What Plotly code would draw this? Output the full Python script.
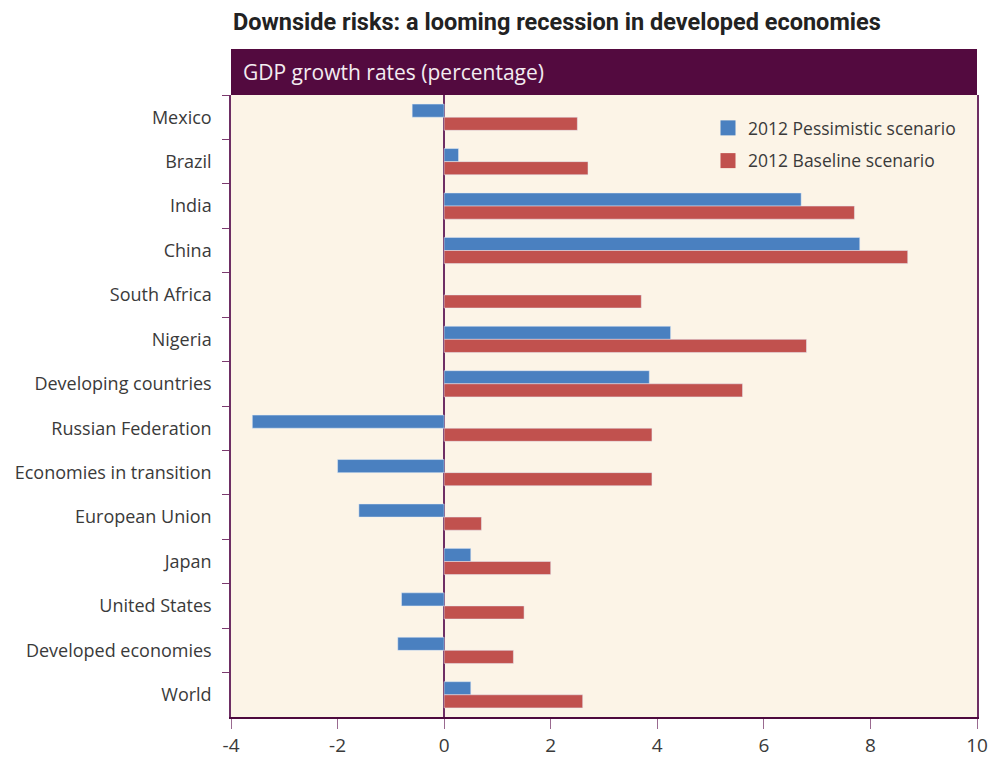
import plotly.graph_objects as go

categories = ["Mexico", "Brazil", "India", "China", "South Africa", "Nigeria",
              "Developing countries", "Russian Federation", "Economies in transition",
              "European Union", "Japan", "United States", "Developed economies", "World"]
pessimistic = [-0.6, 0.27, 6.7, 7.8, None, 4.25, 3.85, -3.6, -2.0, -1.6, 0.5, -0.8, -0.87, 0.5]
baseline = [2.5, 2.7, 7.7, 8.7, 3.7, 6.8, 5.6, 3.9, 3.9, 0.7, 2.0, 1.5, 1.3, 2.6]
x_ticks = [-4, -2, 0, 2, 4, 6, 8, 10]
series_names = ["2012 Pessimistic scenario", "2012 Baseline scenario"]
series_colors = ["#4A80C0", "#C1514E"]

W, H = 990, 757
ml, mt, mb = 231, 95, 40
mr = W - 977
plot_w = W - ml - mr
plot_h = H - mt - mb

fig = go.Figure()
for vals, name, col in zip([pessimistic, baseline], series_names, series_colors):
    fig.add_trace(go.Bar(y=categories, x=vals, orientation="h", name=name,
                         marker_color=col, showlegend=False))
# legend entries (square swatches)
for i, (name, col) in enumerate(zip(series_names, series_colors)):
    fig.add_trace(go.Scatter(x=[None], y=[None], mode="markers", name=name,
                             marker=dict(symbol="square", size=15, color=col),
                             legendgroup=str(i)))

fig.update_layout(
    width=W, height=H,
    margin=dict(l=ml, r=mr, t=mt, b=mb, autoexpand=False),
    paper_bgcolor="white", plot_bgcolor="#FCF4E7",
    barmode="group", bargap=0.41, bargroupgap=0,
    font=dict(family="Open Sans", color="#3a3a3a"),
    legend=dict(x=(708 - ml) / plot_w, y=1 - (110 - 95) / plot_h,
                xanchor="left", yanchor="top", bgcolor="rgba(0,0,0,0)",
                font=dict(size=17.5, color="#3a3a3a"), tracegroupgap=7,
                itemwidth=30),
    xaxis=dict(range=[-4, 10], tickvals=x_ticks, ticktext=[str(v) for v in x_ticks],
               showgrid=False, zeroline=True, zerolinecolor="#6E2E64", zerolinewidth=2,
               showline=True, linecolor="#4E0A3E", linewidth=2, automargin=False,
               ticks="outside", ticklen=10, tickcolor="#9A6A90", tickwidth=1,
               tickfont=dict(size=19, color="#3a3a3a")),
    yaxis=dict(categoryorder="array", categoryarray=categories, autorange="reversed",
               showgrid=False, showline=True, linecolor="#6E2E64", linewidth=1.5,
               mirror=True, ticks="outside", tickson="boundaries", ticklen=7,
               tickcolor="#7B3A6E", ticklabelstandoff=14, automargin=False,
               tickfont=dict(size=18, color="#3a3a3a")),
    shapes=[dict(type="rect", xref="paper", yref="paper", x0=0, x1=1,
                 y0=1, y1=1 + 46 / plot_h, fillcolor="#530A3F",
                 line=dict(width=0), layer="above")],
    annotations=[
        dict(text="GDP growth rates (percentage)", xref="paper", yref="paper",
             x=10 / plot_w, y=1 + 23 / plot_h, xanchor="left", yanchor="middle",
             showarrow=False, font=dict(size=21, color="#F3ECF1", family="Open Sans")),
        dict(text="<b>Downside risks: a looming recession in developed economies</b>",
             xref="paper", yref="paper", x=0, y=1 + 73 / plot_h,
             xanchor="left", yanchor="middle", showarrow=False,
             font=dict(size=23.5, color="#222222", family="Roboto, sans-serif")),
    ],
)

fig.write_html("out.html", config={"displayModeBar": False},
               post_script="document.body.style.margin='0';"
                           "document.body.style.overflow='hidden';")
